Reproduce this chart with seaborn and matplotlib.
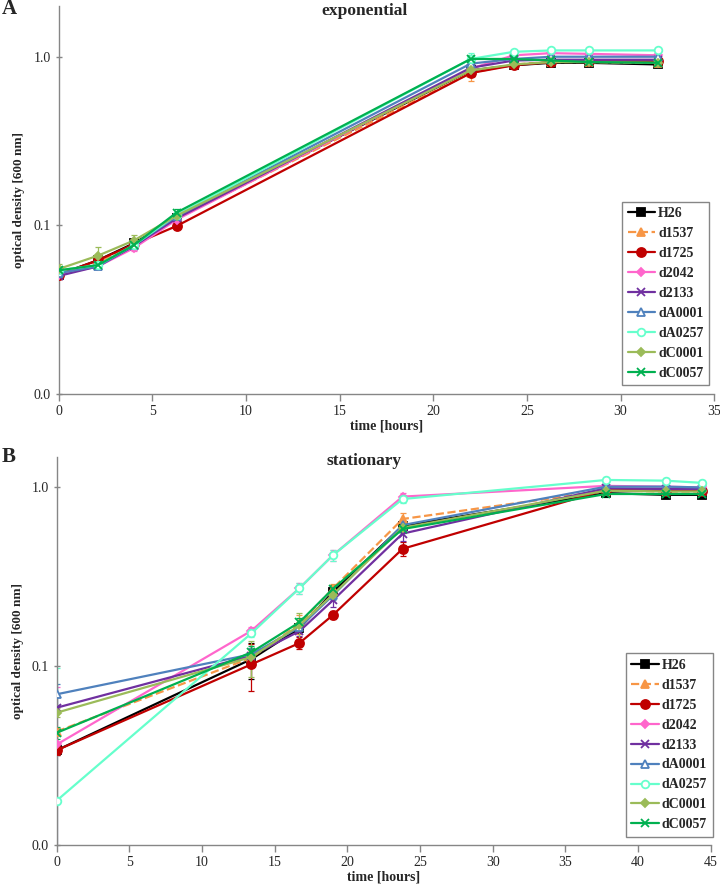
import matplotlib
matplotlib.use("Agg")
import matplotlib.pyplot as plt
import seaborn as sns
import pandas as pd
from matplotlib.ticker import FixedLocator, FixedFormatter, NullLocator

# strains in legend order
strains = ["H26", "d1537", "d1725", "d2042", "d2133", "dA0001", "dA0257", "dC0001", "dC0057"]

# panel A - exponential phase
t_exp = [0, 2.1, 4.0, 6.3, 22.0, 24.3, 26.3, 28.3, 32.0]
exp_H26 = [0.051, 0.062, 0.078, 0.110, 0.83, 0.89, 0.92, 0.92, 0.90]
exp_d1537 = [0.052, 0.060, 0.077, 0.110, 0.80, 0.90, 0.93, 0.93, 0.92]
exp_d1725 = [0.051, 0.062, 0.077, 0.099, 0.80, 0.89, 0.93, 0.94, 0.94]
exp_d2042 = [0.051, 0.057, 0.073, 0.108, 0.85, 1.02, 1.05, 1.04, 1.02]
exp_d2133 = [0.050, 0.057, 0.075, 0.110, 0.86, 0.95, 0.96, 0.96, 0.96]
exp_dA0001 = [0.052, 0.057, 0.076, 0.113, 0.91, 0.97, 1.00, 1.00, 1.00]
exp_dA0257 = [0.054, 0.058, 0.076, 0.115, 0.97, 1.07, 1.09, 1.09, 1.09]
exp_dC0001 = [0.055, 0.066, 0.081, 0.114, 0.83, 0.90, 0.93, 0.93, 0.92]
exp_dC0057 = [0.054, 0.058, 0.076, 0.119, 0.97, 0.97, 0.95, 0.93, 0.92]

exp_err_H26 = [0.002, 0.003, 0.003, 0.004, 0.04, 0.02, 0.02, 0.02, 0.02]
exp_err_d1537 = [0.002, 0.003, 0.004, 0.004, 0.08, 0.03, 0.02, 0.02, 0.02]
exp_err_d1725 = [0.002, 0.003, 0.003, 0.004, 0.03, 0.02, 0.02, 0.02, 0.02]
exp_err_d2042 = [0.002, 0.002, 0.003, 0.004, 0.03, 0.02, 0.02, 0.02, 0.02]
exp_err_d2133 = [0.002, 0.002, 0.003, 0.004, 0.03, 0.02, 0.02, 0.02, 0.02]
exp_err_dA0001 = [0.002, 0.002, 0.003, 0.004, 0.03, 0.02, 0.02, 0.02, 0.02]
exp_err_dA0257 = [0.002, 0.002, 0.003, 0.004, 0.08, 0.03, 0.03, 0.03, 0.03]
exp_err_dC0001 = [0.004, 0.008, 0.006, 0.005, 0.04, 0.02, 0.02, 0.02, 0.02]
exp_err_dC0057 = [0.002, 0.002, 0.003, 0.005, 0.05, 0.02, 0.02, 0.02, 0.02]

# panel B - stationary phase
t_stat = [0, 13.4, 16.7, 19.0, 23.8, 37.8, 41.9, 44.4]
stat_H26 = [0.0338, 0.109, 0.162, 0.258, 0.605, 0.92, 0.90, 0.90]
stat_d1537 = [0.043, 0.111, 0.171, 0.270, 0.66, 0.95, 0.94, 0.94]
stat_d1725 = [0.0338, 0.102, 0.134, 0.192, 0.45, 0.96, 0.95, 0.95]
stat_d2042 = [0.0364, 0.157, 0.271, 0.414, 0.88, 1.01, 1.00, 0.99]
stat_d2133 = [0.0584, 0.114, 0.156, 0.232, 0.547, 0.98, 0.97, 0.97]
stat_dA0001 = [0.0694, 0.116, 0.164, 0.247, 0.61, 1.00, 1.00, 0.99]
stat_dA0257 = [0.0177, 0.152, 0.271, 0.414, 0.853, 1.09, 1.08, 1.05]
stat_dC0001 = [0.0548, 0.112, 0.168, 0.250, 0.59, 0.95, 0.94, 0.94]
stat_dC0057 = [0.0423, 0.119, 0.175, 0.269, 0.58, 0.91, 0.91, 0.91]

stat_err_H26 = [0.002, 0.025, 0.010, 0.015, 0.03, 0.03, 0.03, 0.03]
stat_err_d1537 = [0.002, 0.010, 0.020, 0.015, 0.05, 0.03, 0.03, 0.03]
stat_err_d1725 = [0.002, 0.030, 0.010, 0.010, 0.04, 0.03, 0.03, 0.03]
stat_err_d2042 = [0.040, 0.008, 0.020, 0.030, 0.04, 0.03, 0.03, 0.03]
stat_err_d2133 = [0.002, 0.010, 0.010, 0.020, 0.05, 0.03, 0.03, 0.03]
stat_err_dA0001 = [0.010, 0.010, 0.010, 0.015, 0.03, 0.03, 0.03, 0.03]
stat_err_dA0257 = [0.080, 0.008, 0.020, 0.030, 0.04, 0.04, 0.04, 0.04]
stat_err_dC0001 = [0.003, 0.025, 0.030, 0.015, 0.03, 0.03, 0.03, 0.03]
stat_err_dC0057 = [0.003, 0.010, 0.010, 0.015, 0.03, 0.03, 0.03, 0.03]

exp_vals = [exp_H26, exp_d1537, exp_d1725, exp_d2042, exp_d2133, exp_dA0001, exp_dA0257, exp_dC0001, exp_dC0057]
exp_errs = [exp_err_H26, exp_err_d1537, exp_err_d1725, exp_err_d2042, exp_err_d2133,
            exp_err_dA0001, exp_err_dA0257, exp_err_dC0001, exp_err_dC0057]
stat_vals = [stat_H26, stat_d1537, stat_d1725, stat_d2042, stat_d2133, stat_dA0001, stat_dA0257, stat_dC0001, stat_dC0057]
stat_errs = [stat_err_H26, stat_err_d1537, stat_err_d1725, stat_err_d2042, stat_err_d2133,
             stat_err_dA0001, stat_err_dA0257, stat_err_dC0001, stat_err_dC0057]

# styles
colors = ["#000000", "#F79646", "#C00000", "#FF66CC", "#7030A0", "#4F81BD", "#66FFCC", "#9BBB59", "#00B050"]
markers = ["s", "^", "o", "D", "x", "^", "o", "D", "x"]
msizes = [5.5, 6, 6.5, 4.5, 5.5, 5.5, 5.5, 4.5, 5.5]
hollow = [False, False, False, False, False, True, True, False, False]
lstyles = ["-", "--", "-", "-", "-", "-", "-", "-", "-"]

sns.set_theme(style="white")
plt.rcParams["font.family"] = ["Liberation Serif", "DejaVu Serif"]

gray = "#868686"


def draw_panel(ax, t, vals, errs, xmax, ymax, legend_anchor):
    for name, v, e, c, m, ms, h, ls in zip(strains, vals, errs, colors, markers, msizes, hollow, lstyles):
        df = pd.DataFrame({"time": t, "od": v})
        ax.errorbar(t, v, yerr=e, fmt="none", ecolor=c, elinewidth=0.9, capsize=2.5, capthick=0.9, zorder=2)
        kw = dict(marker=m, markersize=ms, linewidth=1.6, linestyle=ls, color=c,
                  markeredgecolor=c, markeredgewidth=1.3, zorder=3)
        if h:
            kw["markerfacecolor"] = "white"
        sns.lineplot(data=df, x="time", y="od", ax=ax, label=name, **kw)

    ax.set_yscale("log")
    ax.set_ylim(0.01, ymax)
    ax.set_xlim(0, xmax)
    ax.yaxis.set_major_locator(FixedLocator([0.01, 0.1, 1.0]))
    ax.yaxis.set_major_formatter(FixedFormatter(["0.0", "0.1", "1.0"]))
    ax.yaxis.set_minor_locator(NullLocator())
    ax.set_xticks(range(0, xmax + 1, 5))

    for s in ["top", "right"]:
        ax.spines[s].set_visible(False)
    for s in ["left", "bottom"]:
        ax.spines[s].set_color(gray)
        ax.spines[s].set_linewidth(1.0)
    ax.tick_params(axis="x", direction="out", length=5, width=1, color=gray, labelsize=10, pad=3, bottom=True)
    ax.tick_params(axis="y", direction="inout", length=5, width=1, color=gray, labelsize=10, pad=3, left=True)

    ax.set_xlabel("time [hours]", fontsize=10, fontweight="bold", labelpad=1)
    ax.set_ylabel("optical density [600 nm]", fontsize=9.5, fontweight="bold", labelpad=6)

    leg = ax.legend(loc="lower right", bbox_to_anchor=legend_anchor, frameon=True, fancybox=False,
                    framealpha=1, edgecolor=gray, prop={"weight": "bold", "size": 10},
                    handlelength=2.0, handletextpad=0.2, labelspacing=0.5, borderpad=0.4,
                    borderaxespad=0)
    leg.get_frame().set_linewidth(1.0)


fig = plt.figure(figsize=(7.2, 8.84), dpi=100)
ax_a = fig.add_axes([0.0815, 0.5546, 0.9105, 0.4386])
ax_b = fig.add_axes([0.0788, 0.0441, 0.9083, 0.4393])

draw_panel(ax_a, t_exp, exp_vals, exp_errs, 35, 2.0, (0.992, 0.022))
draw_panel(ax_b, t_stat, stat_vals, stat_errs, 45, 1.47, (1.003, 0.021))

fig.text(0.506, 0.9876, "exponential", ha="center", va="center", fontsize=12.5, fontweight="bold")
fig.text(0.506, 0.4785, "stationary", ha="center", va="center", fontsize=12.5, fontweight="bold")
fig.text(0.002, 0.990, "A", ha="left", va="center", fontsize=15, fontweight="bold")
fig.text(0.002, 0.4835, "B", ha="left", va="center", fontsize=15, fontweight="bold")

fig.savefig("out.png", dpi=100)
